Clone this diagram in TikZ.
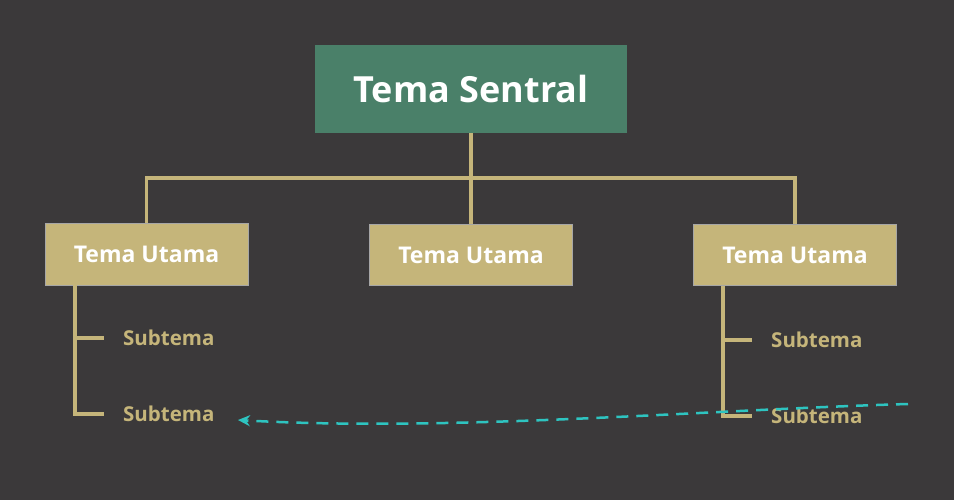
\documentclass[tikz,border=0pt]{standalone}
\usepackage{fontspec}
\setmainfont{Open Sans}
\usetikzlibrary{arrows.meta}
\definecolor{bg}{HTML}{3B393A}
\definecolor{cen}{HTML}{4A8069}
\definecolor{tan}{HTML}{C5B57A}
\definecolor{teal}{HTML}{2EC4C0}
\begin{document}
\begin{tikzpicture}[x=1pt,y=-1pt,
  main/.style={draw=gray!70,line width=1pt,fill=tan,text=white,font=\bfseries\fontsize{23}{27}\selectfont,minimum width=203,minimum height=61,inner sep=0},
  sub/.style={text=tan,font=\bfseries\fontsize{20.5}{24}\selectfont,anchor=west,inner sep=0},
  ln/.style={draw=tan,line width=3.5pt}]
\fill[bg] (0,0) rectangle (954,500);
\useasboundingbox (0,0) rectangle (954,500);
\node[fill=cen,text=white,font=\bfseries\fontsize{36}{42}\selectfont,minimum width=312,minimum height=88,inner sep=0] (c) at (471,89) {Tema Sentral};
\node[main] (a) at (146.5,254.5) {Tema Utama};
\node[main] (b) at (471,255) {Tema Utama};
\node[main] (d) at (795,255) {Tema Utama};
\coordinate (j) at (471,178);
\draw[ln] (c.south) -- (j);
\draw[ln] (a.north) |- (j) -| (d.north);
\draw[ln] (j) -- (b.north);
\node[sub] (s1) at (123,338) {Subtema};
\node[sub] (s2) at (123,414) {Subtema};
\node[sub] (s3) at (771,340) {Subtema};
\node[sub] (s4) at (771,416) {Subtema};
\draw[ln] (75,285) |- (104,414);
\draw[ln] (75,338) -- (104,338);
\draw[ln] (723,286) |- (752,416);
\draw[ln] (723,340) -- (752,340);
\coordinate (e) at (908,404);
\coordinate (t) at (238,420);
\draw[teal,line width=2.5pt,dash pattern=on 12pt off 8pt,-{Stealth[length=12pt,width=11pt]}] (e) .. controls (700,410) and (450,432) .. (t);
\end{tikzpicture}
\end{document}
